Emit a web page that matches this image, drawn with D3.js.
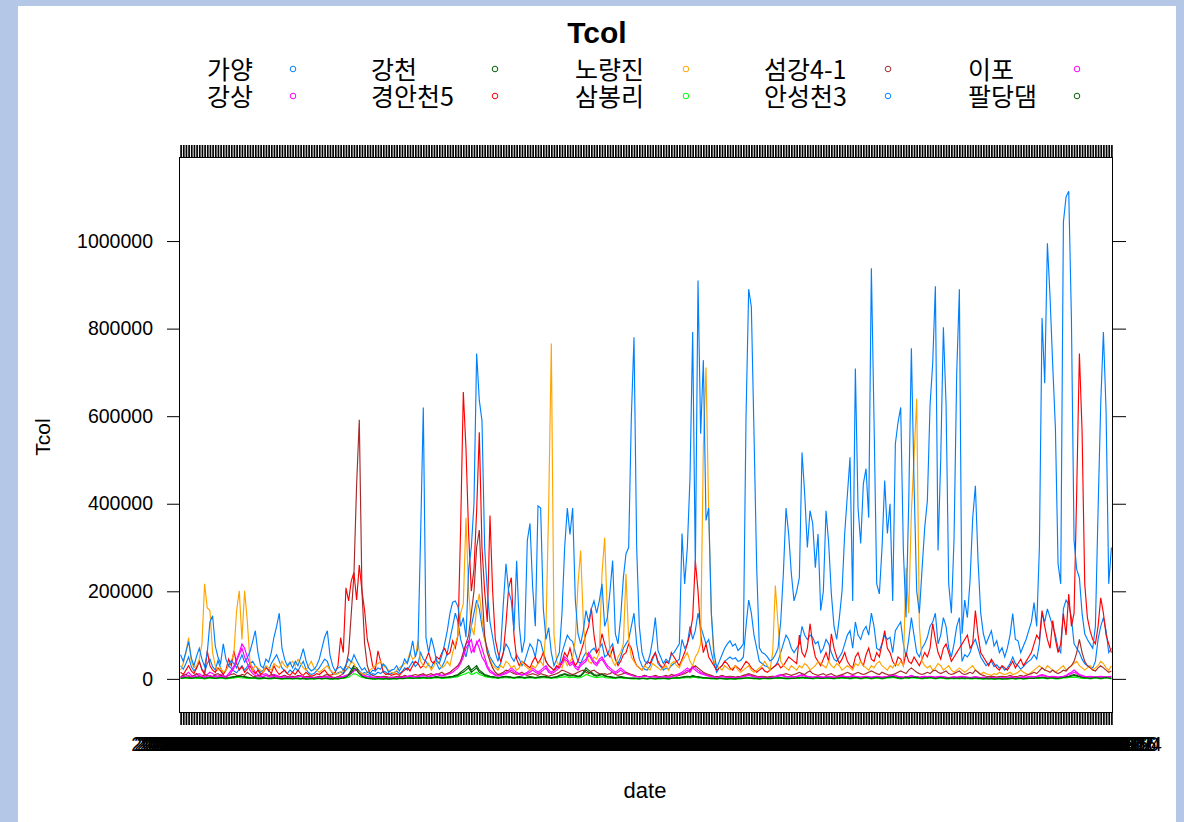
<!DOCTYPE html>
<html>
<head>
<meta charset="utf-8">
<script src="https://cdn.jsdelivr.net/npm/d3@7"></script>
<style>
  html, body { margin: 0; padding: 0; background: #b4c7e7; }
  svg { display: block; }
  .latin { font-family: "Liberation Sans", Arial, sans-serif; }
  .kr { font-family: "Noto Sans CJK KR", "Noto Sans", sans-serif; }
</style>
</head>
<body>
<svg id="chart" width="1184" height="822"></svg>
<script>
// Total coliforms (Tcol) by monitoring site, values in thousands
const sites = ["가양", "강상", "강천", "경안천5", "노량진", "삼봉리", "섬강4-1", "안성천3", "이포", "팔당댐"];
// lattice superpose palette, recycled over the ten sites
const palette = ["#0080ff", "#ff00ff", "#006400", "#ff0000", "#ffa500", "#00ff00", "#a52a2a"];
const yTicks = [0, 200000, 400000, 600000, 800000, 1000000];
const unit = 1000;
const firstSample = new Date(2008, 0, 7);
const sampleStepDays = 14;

const gayang = [
  30,22,35,50,28,18,25,40,22,15, 35,45,28,20,42,25,12,20,30,24,
  18,14,22,30,20,28,35,40,30,22, 15,20,28,18,35,45,55,40,25,18,
  12,20,15,25,18,30,40,22,14,10, 12,18,25,35,45,40,22,12,10,14,
  16,12,20,28,22,30,25,18,12,14, 10,8,12,10,15,12,18,15,10,12,
  14,18,12,16,25,20,30,40,28,35, 60,45,40,30,25,40,35,22,28,40,
  60,90,120,150,130,90,70,50,80,120, 150,180,160,120,90,70,50,40,30,25,
  35,60,80,70,50,40,55,45,30,40, 60,80,70,50,90,85,60,40,30,25,
  20,25,30,60,80,100,90,85,60,40, 35,50,60,55,65,70,60,70,80,50,
  55,70,80,45,35,50,70,80,90,120, 150,80,45,30,22,20,30,45,60,35,
  28,20,25,22,30,35,40,45,90,70, 80,120,90,110,150,120,100,80,90,60,
  35,15,25,30,40,45,50,45,48,40, 42,50,120,180,150,100,70,40,35,30,
  28,22,25,30,40,60,80,100,90,70, 60,70,80,120,100,90,100,95,80,85,
  60,70,90,80,60,45,40,50,60,80, 100,110,70,130,100,90,110,120,100,150,
  120,70,65,80,100,90,95,60,110,120, 130,80,50,90,140,100,60,50,70,80,
  95,120,130,150,80,100,140,120,70,50, 80,120,140,40,55,50,60,80,90,70,
  50,40,30,35,40,28,32,25,28,20, 25,35,50,35,30,22,28,35,40,45,
  55,45,80,150,130,160,140,120,100,70, 60,160,180,170,140,80,70,60,45,35,
  30,28,25,40,90,120,140,110,60,70
];

const gangsang = [
  5,8,10,15,8,6,10,12,8,5, 10,15,12,8,6,10,8,5,12,20,
  30,45,60,80,70,50,35,25,15,10, 8,10,12,8,6,10,8,6,5,8,
  5,6,4,5,6,8,5,4,3,4, 3,4,5,4,6,5,4,3,3,4,
  5,6,8,10,15,20,25,15,10,8, 6,5,4,3,4,5,4,3,3,4,
  3,4,5,4,5,6,8,6,5,6, 8,10,8,6,8,10,12,10,8,10,
  12,15,20,25,30,40,60,80,87,60, 70,80,90,70,50,30,20,15,10,8,
  10,12,15,20,25,20,15,12,10,12, 15,20,25,20,15,20,25,30,20,15,
  20,25,30,40,50,45,35,40,30,25, 35,40,45,60,50,40,35,45,50,40,
  30,25,20,15,20,25,20,15,12,10, 8,6,5,6,8,6,5,6,5,4,
  5,6,5,4,6,8,10,12,15,20, 25,20,30,25,20,15,12,10,8,6,
  5,4,5,6,5,4,5,4,3,4, 5,6,8,10,8,6,5,4,5,4,
  3,4,5,6,8,10,8,6,5,6, 5,6,8,10,8,6,5,4,5,6,
  5,4,5,6,5,4,5,6,8,6, 5,6,8,6,5,4,5,6,5,4,
  5,6,5,4,5,6,8,10,8,6, 5,4,5,6,8,6,5,4,5,6,
  5,6,5,4,5,6,5,4,3,4, 5,4,5,6,5,4,3,4,5,4,
  3,4,3,2,3,4,3,2,3,4, 3,4,5,4,3,4,5,4,5,6,
  5,6,8,10,8,6,5,6,5,4, 5,6,8,12,15,20,15,10,8,6,
  5,6,5,4,5,6,5,4,5,6
];

const gangcheon = [
  2,3,4,3,2,3,4,5,3,2, 3,4,3,2,3,4,3,2,3,4,
  5,6,8,6,5,4,3,2,3,2, 2,3,2,1,2,3,2,1,1,2,
  1,2,1,1,2,1,1,0,1,1, 1,1,2,1,2,1,1,0,1,1,
  2,3,5,10,20,30,25,15,8,4, 2,1,1,0,1,1,0,1,0,1,
  1,1,2,1,2,2,3,2,2,3, 3,4,3,2,3,4,5,4,3,4,
  4,5,6,8,10,15,20,25,30,20, 25,30,20,15,10,8,6,5,4,3,
  4,5,6,5,4,3,4,5,4,3, 4,5,4,3,4,5,6,5,4,3,
  4,5,8,10,12,10,8,10,8,6, 8,15,25,20,15,10,8,10,12,8,
  6,5,4,3,4,5,4,3,2,2, 2,1,1,2,1,1,2,1,1,1,
  1,2,1,1,2,2,3,3,4,5, 6,5,8,6,5,4,3,3,2,2,
  1,1,2,1,1,0,1,1,0,1, 1,2,2,3,2,2,1,1,1,1,
  1,1,2,2,3,3,2,2,1,2, 2,3,3,4,3,3,2,2,3,3,
  2,2,3,3,2,2,3,3,4,3, 3,2,3,4,3,2,3,4,3,2,
  3,4,3,2,3,4,5,6,4,3, 2,3,4,3,4,5,4,3,2,3,
  3,4,3,2,3,4,3,2,2,3, 2,3,2,3,2,3,2,2,3,2,
  1,1,2,1,1,0,1,1,0,1, 1,1,2,1,1,2,1,1,2,2,
  2,3,3,4,3,2,3,3,2,2, 3,4,5,6,8,10,8,6,4,3,
  3,2,3,4,3,2,3,4,3,2
];

const gyeongan5 = [
  15,10,20,30,18,12,25,40,20,10, 64,30,20,15,25,18,10,20,45,30,
  64,35,20,28,15,22,30,18,12,20, 10,15,25,20,12,30,18,10,15,20,
  12,8,15,10,20,12,8,15,10,6, 8,12,10,15,20,12,8,10,15,30,
  94,60,208,178,224,243,180,260,201,156, 90,64,30,20,64,40,15,10,12,8,
  10,12,8,15,20,25,18,30,40,35, 25,30,45,60,40,35,50,45,60,70,
  55,60,87,70,100,345,655,527,330,200, 250,384,563,300,200,130,373,200,90,60,
  40,60,126,208,231,100,45,30,40,35, 30,25,40,50,35,45,60,40,30,25,
  20,30,25,40,60,50,70,45,30,40, 60,80,103,120,162,100,60,70,103,80,
  60,50,70,45,30,40,55,60,80,70, 45,30,25,20,30,40,35,50,60,40,
  30,25,40,35,60,50,40,30,45,60, 80,103,140,270,201,103,60,80,50,40,
  30,20,25,30,40,35,25,20,30,25, 20,30,40,35,25,20,15,20,25,18,
  15,20,25,30,35,25,30,40,50,45, 40,35,100,60,50,70,126,80,50,40,
  30,45,60,40,103,70,50,35,45,60, 40,30,25,50,60,40,30,55,70,45,
  40,60,50,80,110,70,60,40,30,50, 45,30,60,40,35,50,40,30,45,60,
  50,70,126,90,60,45,70,80,60,40, 50,60,70,80,90,100,70,80,156,100,
  60,50,40,30,45,35,25,20,30,25, 20,30,40,25,35,45,30,40,50,60,
  80,100,90,156,120,90,70,133,90,60, 80,149,100,194,120,150,430,743,567,217,
  140,110,90,80,120,185,150,100,80,60
];

const noryangjin = [
  20,35,60,94,40,25,30,45,80,217, 162,156,60,30,20,25,15,20,30,40,
  60,156,201,90,201,133,40,20,30,25, 20,15,30,25,20,35,30,25,40,30,
  25,35,40,30,45,35,25,20,30,40, 25,20,15,20,25,30,20,15,10,12,
  15,20,30,25,40,35,20,15,12,10, 15,20,25,30,35,40,30,25,20,15,
  12,20,25,30,35,40,60,45,50,87, 40,30,25,35,20,30,45,35,25,30,
  40,30,60,80,100,150,171,368,200,120, 100,162,194,140,90,60,45,30,25,20,
  30,25,40,35,25,30,20,25,40,30, 25,20,30,25,35,40,30,117,390,766,
  100,40,30,25,45,30,40,50,90,217, 293,130,60,40,35,50,45,60,240,322,
  150,60,40,30,50,60,80,240,90,50, 40,30,25,20,30,25,20,35,30,25,
  20,25,30,20,35,40,30,25,40,50, 60,40,30,50,60,80,528,711,384,150,
  40,30,25,20,30,25,20,25,30,20, 15,20,25,30,20,15,20,25,30,40,
  30,20,60,213,126,40,30,25,20,30, 25,20,30,25,35,30,20,25,30,40,
  35,30,25,40,30,25,35,30,20,25, 30,25,20,35,30,40,30,25,20,30,
  25,35,40,30,25,20,30,25,35,30, 40,30,254,150,380,506,640,120,40,30,
  25,30,20,25,35,30,20,25,30,20, 15,20,25,20,15,20,25,30,20,15,
  10,15,12,10,8,12,10,15,12,10, 12,15,10,12,15,20,15,12,10,15,
  20,25,30,25,20,30,25,20,15,20, 25,30,20,25,30,35,40,30,25,20,
  25,30,20,25,30,40,35,25,20,30
];

const sambongri = [
  1,1,2,1,1,2,1,1,1,0, 1,2,1,1,1,2,1,0,1,1,
  2,3,3,2,2,1,1,1,1,0, 0,1,1,0,0,1,1,0,0,0,
  0,0,1,0,0,0,1,0,0,0, 0,0,1,0,1,0,0,0,0,0,
  1,1,2,4,8,12,10,6,3,2, 1,0,0,0,0,0,0,0,0,0,
  0,0,1,0,1,1,1,1,1,1, 1,2,1,1,1,2,2,2,1,1,
  2,2,3,4,5,8,10,12,15,10, 12,15,10,8,5,4,3,2,2,1,
  2,2,3,2,2,1,2,2,2,1, 2,2,2,1,2,2,3,2,2,1,
  2,2,3,4,5,4,3,4,3,2, 3,6,10,8,6,4,3,4,5,3,
  2,2,1,1,2,2,1,1,1,0, 0,0,0,1,0,0,1,0,0,0,
  0,1,0,0,1,1,1,1,2,2, 3,2,3,3,2,2,1,1,1,0,
  0,0,1,0,0,0,0,0,0,0, 0,1,1,1,1,0,0,0,0,1,
  0,0,1,1,1,1,1,0,0,1, 1,1,1,2,1,1,1,0,1,1,
  1,1,1,1,1,0,1,1,2,1, 1,0,1,2,1,0,1,2,1,0,
  1,2,1,0,1,2,2,3,2,1, 0,1,2,1,2,2,1,1,0,1,
  1,2,1,0,1,2,1,0,0,1, 0,1,0,1,0,1,0,0,1,0,
  0,0,0,0,0,0,0,0,0,0, 0,0,1,0,0,1,0,0,1,1,
  1,1,1,2,1,0,1,1,0,0, 1,2,2,3,3,4,3,2,1,1,
  1,0,1,2,1,0,1,2,1,0
];

const seomgang41 = [
  5,8,10,6,4,8,12,6,5,10, 8,6,5,10,12,8,6,5,8,10,
  12,8,6,10,8,15,10,6,5,8, 6,5,8,6,10,8,5,4,6,8,
  5,4,6,5,8,6,4,5,6,4, 3,4,6,5,8,10,6,4,3,5,
  8,12,30,60,150,240,444,592,200,80, 30,12,8,6,5,4,6,5,4,3,
  4,5,6,5,8,6,5,8,10,8, 10,12,8,10,12,8,10,12,15,10,
  12,15,20,25,30,40,60,80,100,150, 200,300,340,200,100,60,40,25,15,10,
  12,15,20,18,15,12,10,12,15,10, 8,10,12,10,8,12,10,8,6,8,
  10,12,15,20,18,15,12,10,12,15, 18,20,15,12,18,20,15,12,10,12,
  10,12,15,10,8,10,12,15,12,10, 8,6,5,6,8,6,5,6,8,6,
  5,6,8,6,10,8,6,8,10,12, 15,20,25,30,25,20,15,12,10,8,
  6,5,6,8,6,5,6,5,4,5, 6,8,10,12,10,8,6,5,6,5,
  4,5,6,5,6,8,10,12,10,8, 10,12,15,12,10,15,18,12,10,8,
  10,12,8,10,12,8,6,8,10,12, 15,12,10,12,15,12,10,12,15,18,
  15,12,10,15,12,10,8,10,12,15, 18,15,12,20,25,20,15,12,10,12,
  15,12,18,20,15,12,15,18,12,10, 12,15,18,12,10,12,15,12,20,15,
  10,8,6,5,6,5,4,5,6,5, 6,8,6,5,6,8,6,8,10,12,
  15,12,18,25,20,18,15,20,15,12, 15,20,18,25,30,40,60,90,60,40,
  30,25,20,18,25,30,25,20,15,18
];

const anseong3 = [
  55,40,62,85,48,30,52,70,45,28, 60,130,144,75,50,35,80,45,30,42,
  35,25,40,55,38,48,62,85,110,60, 30,25,45,38,60,95,120,150,70,45,
  30,38,25,40,30,48,69,42,25,18, 22,30,45,70,95,110,55,30,18,25,
  28,20,32,45,38,55,42,30,20,25, 15,12,20,18,25,22,34,28,15,20,
  22,30,18,28,45,35,55,87,50,70, 330,620,94,60,94,70,40,35,55,80,
  110,150,175,178,165,120,140,95,250,300, 400,743,636,590,300,200,130,95,60,40,
  70,171,263,200,178,110,270,120,60,90, 316,355,210,120,395,390,160,90,117,60,
  30,45,60,150,300,390,330,390,180,103, 80,110,156,130,160,178,150,178,217,120,
  140,200,270,103,80,140,230,286,300,597, 780,300,120,60,41,35,55,90,140,64,
  50,35,45,38,55,60,70,80,332,217, 300,460,792,254,910,560,728,362,390,150,
  60,25,40,55,70,80,87,75,80,65, 71,80,597,890,850,560,254,71,60,57,
  50,41,45,55,70,130,240,390,330,240, 178,200,231,517,423,300,384,355,254,331,
  156,200,384,309,194,120,90,140,200,332, 420,506,178,709,391,309,446,480,368,938,
  590,217,194,300,453,332,400,178,537,586, 620,293,140,400,755,446,201,150,250,345,
  407,625,721,897,293,500,803,629,217,150, 320,698,890,103,180,140,224,368,441,270,
  150,103,80,95,110,75,87,60,71,50, 70,100,149,90,87,60,75,90,110,130,
  174,120,300,824,675,995,872,716,574,263, 217,1043,1101,1114,826,316,250,231,150,103,
  90,80,70,120,384,629,792,613,217,300
];

const ipo = [
  3,5,6,8,5,4,6,8,5,3, 6,8,6,5,4,6,5,3,8,15,
  25,40,55,70,50,35,20,12,8,6, 5,6,8,5,4,6,5,4,3,5,
  3,4,3,4,5,6,4,3,2,3, 2,3,4,3,5,4,3,2,2,3,
  4,5,6,8,12,18,20,12,8,6, 5,4,3,2,3,4,3,2,2,3,
  2,3,4,3,4,5,6,5,4,5, 6,8,6,5,6,8,10,8,6,8,
  10,12,15,20,25,35,50,70,80,90, 60,85,70,50,40,25,15,12,8,6,
  8,10,12,15,20,15,12,10,8,10, 12,15,20,15,12,15,20,25,15,12,
  15,20,25,35,45,40,30,35,25,20, 30,35,40,55,45,35,30,40,45,35,
  25,20,15,12,15,20,15,12,10,8, 6,5,4,5,6,5,4,5,4,3,
  4,5,4,3,5,6,8,10,12,15, 20,15,25,20,15,12,10,8,6,5,
  4,3,4,5,4,3,4,3,2,3, 4,5,6,8,6,5,4,3,4,3,
  2,3,4,5,6,8,6,5,4,5, 4,5,6,8,6,5,4,3,4,5,
  4,3,4,5,4,3,4,5,6,5, 4,5,6,5,4,3,4,5,4,3,
  4,5,4,3,4,5,6,8,6,5, 4,3,4,5,6,5,4,3,4,5,
  4,5,4,3,4,5,4,3,2,3, 4,3,4,5,4,3,2,3,4,3,
  2,3,2,1,2,3,2,1,2,3, 2,3,4,3,2,3,4,3,4,5,
  4,5,6,8,6,5,4,5,4,3, 4,5,6,10,12,15,12,8,6,5,
  4,5,4,3,4,5,4,3,4,5
];

const paldang = [
  1,2,3,2,1,2,3,2,2,1, 2,3,2,1,2,3,2,1,2,3,
  4,5,6,5,4,3,2,2,2,1, 1,2,1,1,1,2,1,1,0,1,
  1,1,0,1,1,0,1,0,0,1, 0,1,1,0,1,1,0,0,1,0,
  1,2,4,8,15,25,20,12,6,3, 1,1,0,0,1,0,0,1,0,0,
  1,0,1,1,1,2,2,1,2,2, 2,3,2,2,2,3,4,3,2,3,
  3,4,5,6,8,12,15,20,25,15, 20,25,15,12,8,6,5,4,3,2,
  3,4,5,4,3,2,3,4,3,2, 3,4,3,2,3,4,5,4,3,2,
  3,4,6,8,10,8,6,8,6,5, 6,12,20,15,12,8,6,8,10,6,
  5,4,3,2,3,4,3,2,1,1, 1,1,0,1,1,0,1,1,0,1,
  1,1,1,0,1,2,2,2,3,4, 5,4,6,5,4,3,2,2,1,1,
  1,0,1,1,0,0,1,0,0,1, 1,1,2,2,1,1,1,0,1,1,
  1,1,1,2,2,2,1,1,1,1, 1,2,2,3,2,2,1,1,2,2,
  1,1,2,2,1,1,2,2,3,2, 2,1,2,3,2,1,2,3,2,1,
  2,3,2,1,2,3,4,5,3,2, 1,2,3,2,3,4,3,2,1,2,
  2,3,2,1,2,3,2,1,1,2, 1,2,1,2,1,2,1,1,2,1,
  1,0,1,0,1,0,0,1,0,0, 0,1,1,0,1,1,0,1,1,1,
  1,2,2,3,2,1,2,2,1,1, 2,3,4,5,6,8,6,5,3,2,
  2,1,2,3,2,1,2,3,2,1
];

// series in factor-level order (drawing order)
const seriesValues = [gayang, gangsang, gangcheon, gyeongan5, noryangjin,
                      sambongri, seomgang41, anseong3, ipo, paldang];

const fmtDate = d3.timeFormat("%Y-%m-%d");
const dates = anseong3.map((_, i) => fmtDate(d3.timeDay.offset(firstSample, i * sampleStepDays)));
const n = dates.length;

// ---- layout ----
const svg = d3.select("#chart");
const panel = { left: 179, right: 1113, top: 157, bottom: 713 };

svg.append("rect").attr("x", 18).attr("y", 6).attr("width", 1158).attr("height", 816)
  .attr("fill", "#ffffff");

// lattice-style limits: factor axis padded by 0.6, numeric extended by 7%
const x = d3.scaleLinear().domain([-0.6, n - 0.4]).range([panel.left, panel.right]);
const allVals = seriesValues.flat().map(v => v * unit);
const yMin = d3.min(allVals), yMax = d3.max(allVals);
const pad = (yMax - yMin) * 0.07;
const y = d3.scaleLinear().domain([yMin - pad, yMax + pad]).range([panel.bottom, panel.top]);

// title
svg.append("text").attr("class", "latin")
  .attr("x", 597).attr("y", 43).attr("text-anchor", "middle")
  .attr("font-size", 30).attr("font-weight", "bold").attr("fill", "#000")
  .text("Tcol");

// legend: 5 columns x 2 rows, filled column by column
const colText = [207, 371, 575, 764, 968];
const colSym = [293, 495, 686, 888, 1077];
const rowY = [70, 97];
const legend = svg.append("g");
sites.forEach((s, i) => {
  const c = Math.floor(i / 2), r = i % 2;
  legend.append("text").attr("class", "kr")
    .attr("x", colText[c]).attr("y", rowY[r]).attr("dy", "0.36em")
    .attr("font-size", 25).attr("fill", "#000").text(s);
  legend.append("circle")
    .attr("cx", colSym[c]).attr("cy", rowY[r] - 1).attr("r", 2.8)
    .attr("fill", "none").attr("stroke", palette[i % palette.length]).attr("stroke-width", 1);
});

// clip for the lines
svg.append("defs").append("clipPath").attr("id", "panelClip")
  .append("rect").attr("x", panel.left).attr("y", panel.top)
  .attr("width", panel.right - panel.left).attr("height", panel.bottom - panel.top);

const line = d3.line().x((d, i) => x(i)).y(d => y(d * unit));
svg.append("g").attr("clip-path", "url(#panelClip)")
  .selectAll("path").data(seriesValues).join("path")
  .attr("d", d => line(d))
  .attr("fill", "none")
  .attr("stroke", (d, i) => palette[i % palette.length])
  .attr("stroke-width", 1.15);

// panel border
svg.append("rect")
  .attr("x", panel.left + 0.5).attr("y", panel.top + 0.5)
  .attr("width", panel.right - panel.left - 1).attr("height", panel.bottom - panel.top - 1)
  .attr("fill", "none").attr("stroke", "#000").attr("stroke-width", 1);

// y axes (labels on left, ticks on both sides)
const yLeft = svg.append("g").attr("class", "latin")
  .attr("transform", `translate(${panel.left},0)`)
  .call(d3.axisLeft(y).tickValues(yTicks).tickSize(12).tickPadding(14).tickFormat(d3.format("d")));
const yRight = svg.append("g")
  .attr("transform", `translate(${panel.right},0)`)
  .call(d3.axisRight(y).tickValues(yTicks).tickSize(13).tickFormat(""));

// x axes (ticks at every sampling date, labels at bottom)
const idx = d3.range(n);
const xTop = svg.append("g")
  .attr("transform", `translate(0,${panel.top})`)
  .call(d3.axisTop(x).tickValues(idx).tickSize(12).tickFormat(""));
const xBottom = svg.append("g").attr("class", "latin")
  .attr("transform", `translate(0,${panel.bottom})`)
  .call(d3.axisBottom(x).tickValues(idx).tickSize(12).tickPadding(12).tickFormat(i => dates[i]));

[yLeft, yRight, xTop, xBottom].forEach(g => {
  g.select(".domain").remove();
  g.selectAll(".tick line").attr("stroke", "#000");
  g.selectAll(".tick text").attr("fill", "#000").attr("font-size", 19.5)
    .attr("font-family", "Liberation Sans, Arial, sans-serif");
});
// dense date ticks drawn slightly heavier so the rows read as solid bands
[xTop, xBottom].forEach(g => g.selectAll(".tick line").attr("stroke-width", 1.7));

// axis titles
svg.append("text").attr("class", "latin")
  .attr("transform", "translate(43,437) rotate(-90)")
  .attr("text-anchor", "middle").attr("dy", "0.35em")
  .attr("font-size", 21).attr("fill", "#000").text("Tcol");
svg.append("text").attr("class", "latin")
  .attr("x", 645).attr("y", 790).attr("text-anchor", "middle").attr("dy", "0.35em")
  .attr("font-size", 22).attr("fill", "#000").text("date");
</script>
</body>
</html>
